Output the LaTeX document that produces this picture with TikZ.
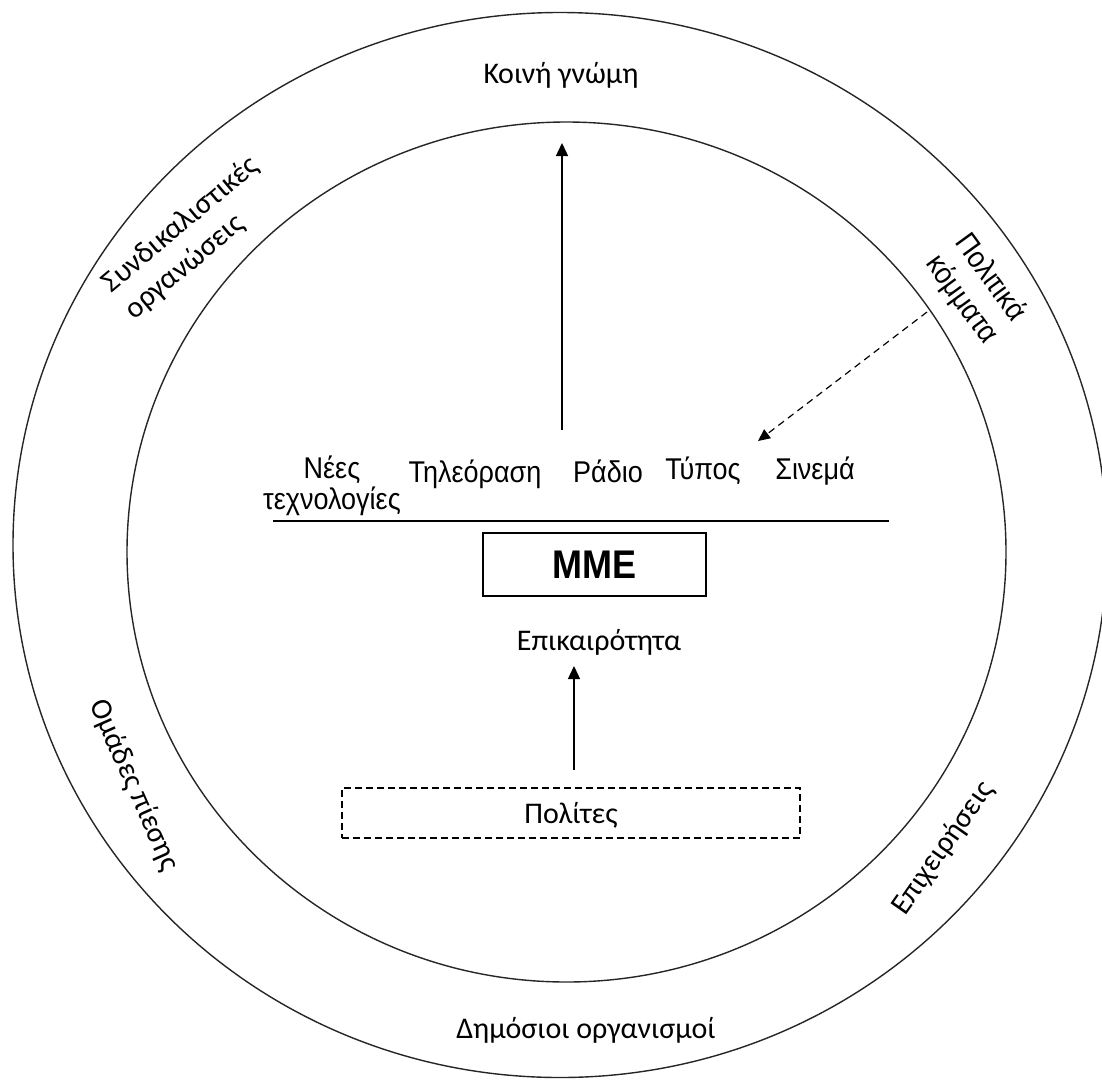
\documentclass[tikz,border=0pt]{standalone}
\usepackage{fontspec}
\setmainfont{Carlito}
\newfontfamily\arialn[FakeStretch=0.9]{Liberation Sans}
\usetikzlibrary{arrows.meta}
\begin{document}
\begin{tikzpicture}[x=1pt,y=-1pt,
  ring/.style={draw=black!85, line width=1.4pt},
  lbl/.style={font=\fontsize{30}{35}\selectfont, inner sep=0pt},
  medialbl/.style={font=\arialn\fontsize{30}{31}\selectfont, inner sep=0pt, anchor=base, align=center},
  arr/.style={line width=1.4pt, -{Triangle[width=12pt,length=13pt]}},
  darr/.style={line width=1.2pt, dash pattern=on 7pt off 5pt, -{Triangle[width=11pt,length=12pt]}},
  rule/.style={line width=1.4pt},
]
\useasboundingbox (0,0) rectangle (1102,1079);
\clip (0,0) rectangle (1102,1079);
% rings
\draw[ring] (560,545) ellipse [x radius=547pt, y radius=532.5pt];
\draw[ring] (566.5,552) ellipse [x radius=439.5pt, y radius=430pt];
% outer ring labels
\node[lbl, anchor=base] (opinion) at (561,83) {Κοινή γνώμη};
\node[lbl, anchor=base] (public) at (586,1038) {Δημόσιοι οργανισμοί};
\node[lbl, rotate=40, align=left] (unions) at (192,238) {Συνδικαλιστικές\\οργανώσεις};
\node[font=\arialn\fontsize{30}{36}\selectfont, inner sep=0pt, rotate=-54, align=left] (parties) at (976,289) {Πολιτικά\\κόμματα};
\node[lbl, rotate=-66] (pressure) at (134,785) {Ομάδες πίεσης};
\node[lbl, rotate=55] (business) at (943,848) {Επιχειρήσεις};
% media
\node[medialbl] (newtech) at (332,509) {Νέες\\τεχνολογίες};
\node[medialbl] (tv) at (475,482) {Τηλεόραση};
\node[medialbl] (radio) at (608,482) {Ράδιο};
\node[medialbl] (press) at (703,479) {Τύπος};
\node[medialbl] (cinema) at (815,479) {Σινεμά};
\coordinate (rulea) at (273,521);
\coordinate (ruleb) at (889,521);
\draw[rule] (rulea) -- (ruleb);
\node[draw, line width=1.4pt, minimum width=223pt, minimum height=63pt, inner sep=0pt,
      font=\arialn\bfseries\fontsize{40}{40}\selectfont] (mme) at (594.5,564.5) {ΜΜΕ};
\node[lbl, anchor=base] (news) at (599,650) {Επικαιρότητα};
\node[draw, line width=1.2pt, dash pattern=on 7pt off 4pt, minimum width=458pt, minimum height=50pt,
      inner sep=0pt, text depth=0pt, font=\fontsize{30}{35}\selectfont] (citizens) at (571,813) {Πολίτες};
% arrows
\coordinate (a1s) at (562,430);
\coordinate (a1e) at (562,143);
\draw[arr] (a1s) -- (a1e);
\coordinate (a2s) at (574,770);
\coordinate (a2e) at (574,666);
\draw[arr] (a2s) -- (a2e);
\coordinate (a3s) at (927,312);
\coordinate (a3e) at (758,441);
\draw[darr] (a3s) -- (a3e);
\end{tikzpicture}
\end{document}
